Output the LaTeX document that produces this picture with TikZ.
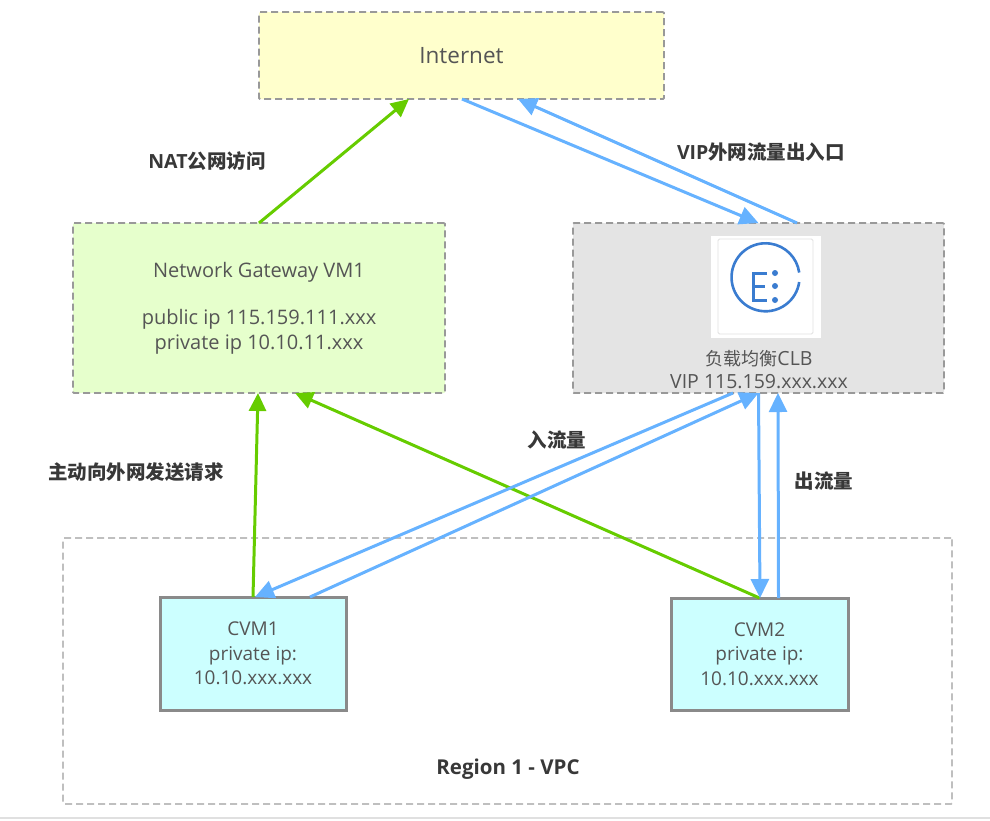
\documentclass[tikz,border=0pt]{standalone}
\usepackage{fontspec}
\usepackage{xcolor}
\setmainfont{Open Sans}
\newfontfamily\cjk{Noto Sans CJK SC}
\usetikzlibrary{arrows.meta,positioning}
\definecolor{SoftYellow}{RGB}{255,255,204}
\definecolor{SoftGreen}{RGB}{230,255,204}
\definecolor{SoftGray}{RGB}{228,228,228}
\definecolor{SoftCyan}{RGB}{204,255,255}
\definecolor{EdgeGray}{RGB}{153,153,153}
\definecolor{TextGray}{RGB}{85,85,85}
\definecolor{LinkBlue}{RGB}{102,178,255}
\definecolor{LinkGreen}{RGB}{102,204,0}
\definecolor{IconBlue}{RGB}{58,124,208}
\tikzset{
  dashbox/.style={draw=EdgeGray, dash pattern=on 7pt off 4pt, line width=1.8pt, outer sep=0pt,
    rounded corners=1pt, align=center, text=TextGray, font=\fontsize{20}{25}\selectfont},
  cvmbox/.style={draw=EdgeGray!90!black, fill=SoftCyan, line width=3pt, outer sep=0pt,
    minimum width=186pt, minimum height=113pt, align=center, text=TextGray,
    font=\fontsize{19}{24.5}\selectfont},
  caption/.style={text=black!78, font=\fontsize{19.5}{24}\selectfont\bfseries, inner sep=0pt},
  bluelink/.style={-{Triangle[length=19pt,width=18pt]}, draw=LinkBlue, line width=3pt},
  greenlink/.style={-{Triangle[length=18pt,width=17pt]}, draw=LinkGreen, line width=3pt},
}
\begin{document}
\begin{tikzpicture}[x=1pt,y=-1pt]
\useasboundingbox (0,0) rectangle (990,820);
\draw[black!12, line width=1.2pt] (0,818) -- (990,818);

% boxes
\node[dashbox, draw=black!25, minimum width=889pt, minimum height=266pt] (region) at (507.5,671) {};
\node[dashbox, fill=SoftYellow, minimum width=405pt, minimum height=87pt, font=\fontsize{22.5}{27}\selectfont] (internet) at (461.5,55.5) {Internet};
\node[dashbox, fill=SoftGreen, minimum width=372pt, minimum height=170pt] (gateway) at (259,308) {Network Gateway VM1\\[22pt]public ip 115.159.111.xxx\\private ip 10.10.11.xxx};
\node[dashbox, fill=SoftGray, minimum width=371pt, minimum height=170pt] (clb) at (758.5,308) {};
\node[cvmbox] (cvm1) at (253,653.5) {CVM1\\private ip:\\10.10.xxx.xxx};
\node[cvmbox, minimum width=177pt, minimum height=112pt] (cvm2) at (759.5,654) {CVM2\\private ip:\\10.10.xxx.xxx};

% load balancer icon
\node[fill=white, minimum width=110pt, minimum height=102pt, inner sep=0pt] (clbicon) at (766,287) {};
\node[draw=black!12, line width=0.8pt, rounded corners=1.5pt, minimum width=95pt, minimum height=95pt, inner sep=0pt] (clbframe) at (765.5,286.5) {};
\draw[IconBlue, line width=2.6pt] (799.2,282) arc[start angle=-8, end angle=-352, radius=34pt];
\draw[IconBlue, line width=3pt] (767,273) -- (753,273) -- (753,300) -- (767,300) (753,286) -- (765,286);
\foreach \doty in {273,286,300}
  \fill[IconBlue] (775,\doty) circle[radius=3pt];
\node[inner sep=0pt, align=center, text=TextGray, font=\fontsize{19.5}{23}\selectfont] (clblabel) at (759,370) {{\cjk\fontsize{18}{23}\selectfont 负载均衡}CLB\\VIP 115.159.xxx.xxx};

% links
\draw[greenlink] (gateway.north) -- ([xshift=-52.5pt]internet.south);
\draw[greenlink] (cvm1.north) -- ([xshift=-1pt]gateway.south);
\draw[greenlink] (cvm2.north) -- ([xshift=36pt]gateway.south);
\draw[bluelink] ([xshift=0.5pt]internet.south) -- (clb.north);
\draw[bluelink] ([xshift=38.5pt]clb.north) -- ([xshift=56.5pt]internet.south);
\draw[bluelink] ([xshift=-25.5pt]clb.south) -- ([xshift=2pt]cvm1.north);
\draw[bluelink] ([xshift=57pt]cvm1.north) -- (clb.south);
\draw[bluelink] (clb.south) -- ([xshift=0.5pt]cvm2.north);
\draw[bluelink] ([xshift=19pt]cvm2.north) -- ([xshift=19.5pt]clb.south);

% captions
\node[caption] (natlabel) at (207,161) {NAT{\cjk 公网访问}};
\node[caption] (viplabel) at (761,152) {VIP{\cjk 外网流量出入口}};
\node[caption] (inlabel) at (557,440) {\cjk 入流量};
\node[caption] (reqlabel) at (136,472) {\cjk 主动向外网发送请求};
\node[caption] (outlabel) at (824,481) {\cjk 出流量};
\node[caption, font=\fontsize{20.5}{24}\selectfont\bfseries] (regionlabel) at (508,769) {Region 1 - VPC};
\end{tikzpicture}
\end{document}
